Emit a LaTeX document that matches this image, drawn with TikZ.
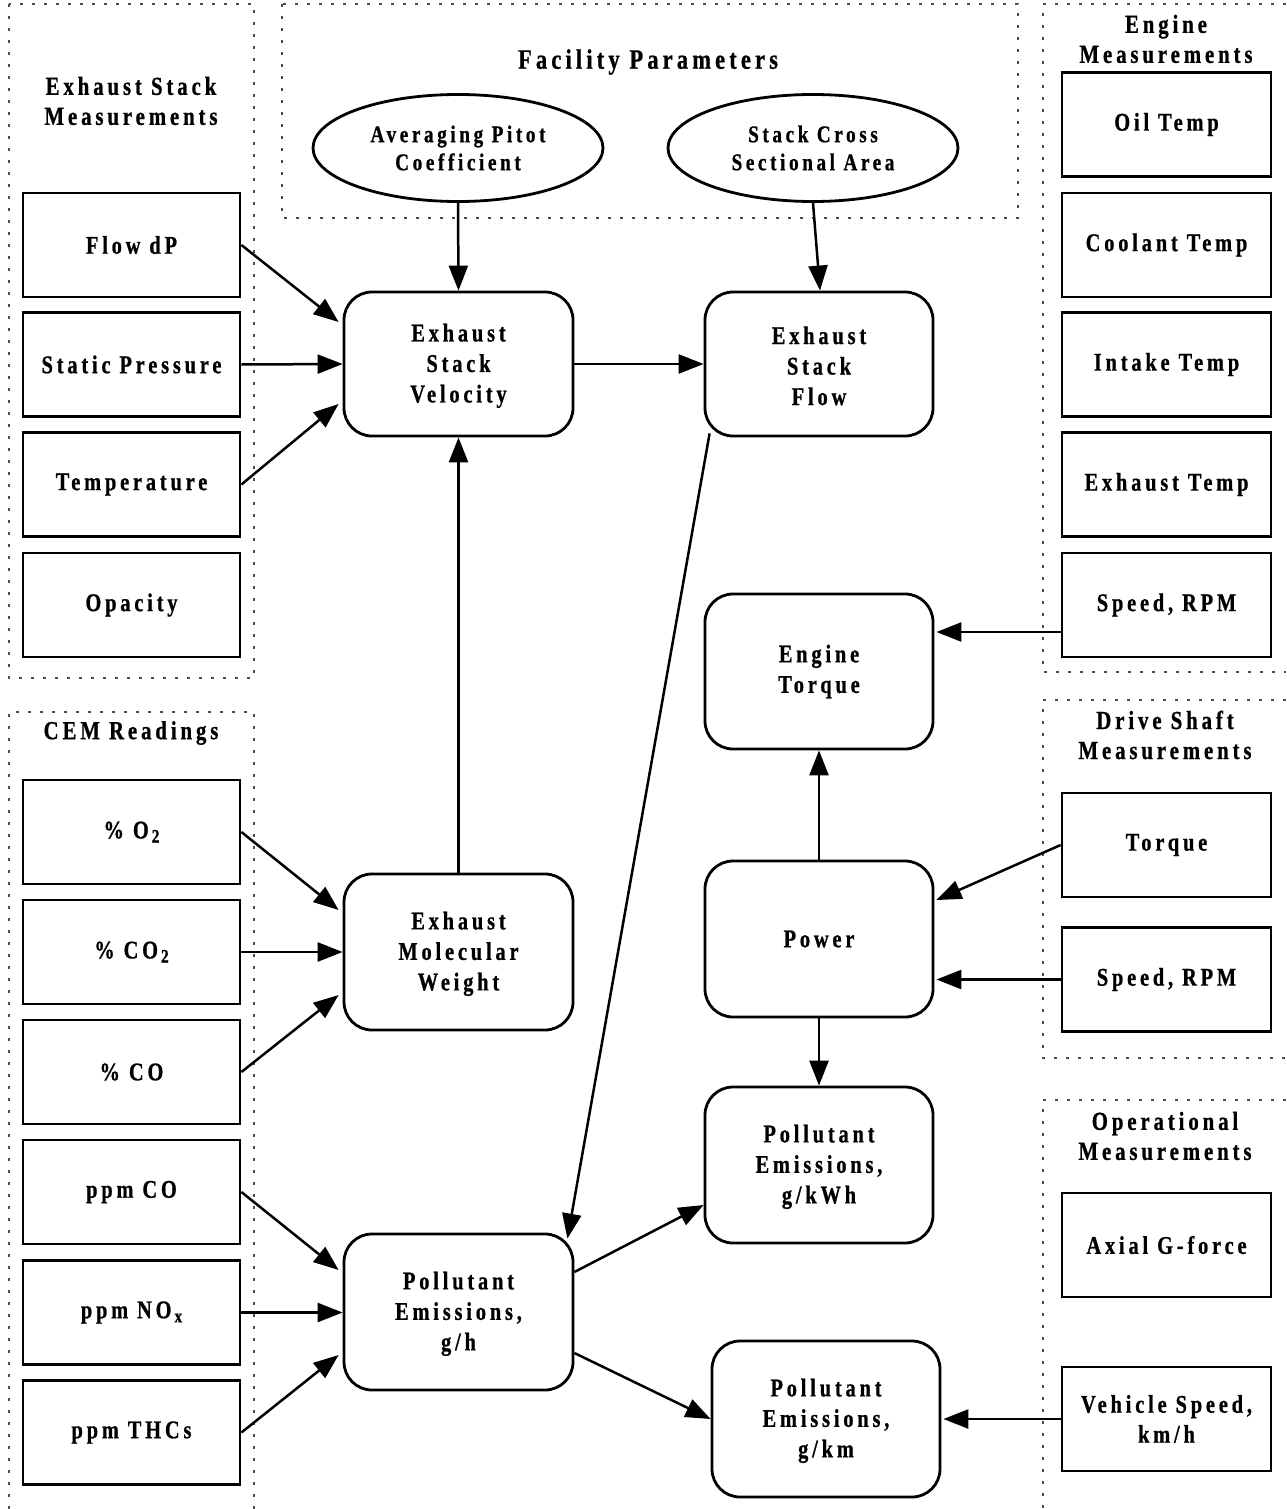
\documentclass[tikz,border=0pt]{standalone}
\usepackage{fontspec}
\setmainfont{Liberation Serif}[FakeStretch=0.8, LetterSpace=15, BoldFont={Liberation Serif Bold}, BoldFeatures={FakeBold=0.8}]
\usetikzlibrary{shapes.geometric,arrows.meta}
\newcommand\subtx[1]{\hspace{3pt}\raisebox{-0.35ex}{\fontsize{19}{19}\selectfont #1}}
\tikzset{
  meas/.style={draw, line width=2.8pt, minimum height=104pt, align=center, inner sep=0pt,
    font=\bfseries\fontsize{25.5}{30}\selectfont},
  measL/.style={meas, minimum width=217pt},
  measR/.style={meas, minimum width=209pt},
  calc/.style={draw, line width=2.8pt, rounded corners=28pt, minimum width=229pt, minimum height=156pt,
    align=center, inner sep=0pt, font=\bfseries\fontsize{25.5}{30.5}\selectfont},
  param/.style={draw, ellipse, line width=2.8pt, minimum width=290pt, minimum height=107pt, inner sep=0pt,
    align=center, font=\bfseries\fontsize{24}{28}\selectfont},
  grptitle/.style={align=center, inner sep=0pt, font=\bfseries\fontsize{26}{30}\selectfont},
  grp/.style={line width=1.1pt, black!70, dash pattern=on 3pt off 9pt},
  arr/.style={line width=2.5pt, -{Triangle[length=25pt,width=19pt]}},
}
\begin{document}
\begin{tikzpicture}[x=1pt,y=-1pt]
\useasboundingbox (0,0) rectangle (1286,1509);
% group frames
\draw[grp] (9,4) rectangle (254,678);
\draw[grp] (282,4) rectangle (1018,218);
\draw[grp] (1286,4) -- (1043,4) -- (1043,672) -- (1286,672);
\draw[grp] (1286,700) -- (1043,700) -- (1043,1058) -- (1286,1058);
\draw[grp] (1286,1100) -- (1043,1100) -- (1043,1509);
\draw[grp] (254,1509) -- (254,712) -- (9,712) -- (9,1509);
% group titles
\node[grptitle] (t1) at (131,101) {Exhaust Stack\\Measurements};
\node[grptitle, font=\bfseries\fontsize{28}{34}\selectfont] (t2) at (648,62) {Facility Parameters};
\node[grptitle] (t3) at (1166,39) {Engine\\Measurements};
\node[grptitle] (t4) at (131,733) {CEM Readings};
\node[grptitle] (t5) at (1165,735) {Drive Shaft\\Measurements};
\node[grptitle] (t6) at (1165,1136) {Operational\\Measurements};
% ellipses
\node[param] (pitot) at (458,148) {Averaging Pitot\\Coefficient};
\node[param] (area) at (813,148) {Stack Cross\\Sectional Area};
% left measurements
\node[measL] (flow) at (131.5,245) {Flow dP};
\node[measL] (stat) at (131.5,364.5) {Static Pressure};
\node[measL] (temp) at (131.5,484.5) {Temperature};
\node[measL] (opac) at (131.5,605) {Opacity};
\node[measL] (otwo) at (131.5,832) {\% O\subtx{2}};
\node[measL] (cotwo) at (131.5,952) {\% CO\subtx{2}};
\node[measL] (co) at (131.5,1072) {\% CO};
\node[measL] (ppmco) at (131.5,1192) {ppm CO};
\node[measL] (nox) at (131.5,1312.5) {ppm NO\subtx{x}};
\node[measL] (thc) at (131.5,1432.5) {ppm THCs};
% right measurements
\node[measR] (oil) at (1166.5,124.5) {Oil Temp};
\node[measR] (cool) at (1166.5,245) {Coolant Temp};
\node[measR] (intake) at (1166.5,364.5) {Intake Temp};
\node[measR] (exht) at (1166.5,484.5) {Exhaust Temp};
\node[measR] (rpma) at (1166.5,605) {Speed, RPM};
\node[measR] (torq) at (1166.5,845) {Torque};
\node[measR] (rpmb) at (1166.5,979.5) {Speed, RPM};
\node[measR] (axial) at (1166.5,1245) {Axial G-force};
\node[measR] (veh) at (1166.5,1419) {Vehicle Speed,\\km/h};
% calculations
\node[calc, minimum height=144pt] (esv) at (458.5,364) {\strut Exhaust\\Stack\\Velocity};
\node[calc, minimum height=144pt, minimum width=228pt] (esf) at (819,364) {\strut Exhaust\\Stack\\Flow};
\node[calc, minimum width=228pt, minimum height=155pt] (etq) at (819,671.5) {Engine\\Torque};
\node[calc] (emw) at (458.5,952) {\strut Exhaust\\Molecular\\Weight};
\node[calc, minimum width=228pt] (pow) at (819,939) {Power};
\node[calc, minimum width=228pt] (pekwh) at (819,1165) {\strut Pollutant\\Emissions,\\g/kWh};
\node[calc] (pegh) at (458.5,1312) {\strut Pollutant\\Emissions,\\g/h};
\node[calc, minimum width=228pt] (pekm) at (826,1419) {\strut Pollutant\\Emissions,\\g/km};
% connectors
\draw[arr] (pitot.south) -- (esv.north);
\draw[arr] (area.south) -- ([xshift=1pt]esf.north);
\draw[arr] (flow.east) -- ([xshift=-4pt,yshift=42pt]esv.west);
\draw[arr] (stat.east) -- (esv.west);
\draw[arr] (temp.east) -- ([xshift=-4pt,yshift=-40pt]esv.west);
\draw[arr] (esv.east) -- (esf.west);
\draw[arr] (emw.north) -- (esv.south);
\draw[arr] (otwo.east) -- ([xshift=-4pt,yshift=42pt]emw.west);
\draw[arr] (cotwo.east) -- (emw.west |- cotwo.east);
\draw[arr] (co.east) -- ([xshift=-4pt,yshift=-43pt]emw.west);
\draw[arr] ([xshift=6pt,yshift=4pt]esf.south west) -- ([xshift=-7pt,yshift=-6pt]pegh.north east);
\draw[arr] (ppmco.east) -- ([xshift=-4pt,yshift=42pt]pegh.west);
\draw[arr] (nox.east) -- (pegh.west |- nox.east);
\draw[arr] (thc.east) -- ([xshift=-4pt,yshift=-43pt]pegh.west);
\draw[arr] ([yshift=40pt]pegh.east) -- ([yshift=-40pt]pekwh.west);
\draw[arr] ([yshift=-41pt]pegh.east) -- (pekm.west);
\draw[arr] ([yshift=-27pt]rpma.west) -- ([xshift=2pt,yshift=-27pt]etq.east |- rpma.west);
\draw[arr] (pow.north) -- (etq.south);
\draw[arr] (torq.west) -- ([xshift=2pt,yshift=39pt]pow.east);
\draw[arr] (rpmb.west) -- ([xshift=2pt]pow.east |- rpmb.west);
\draw[arr] (pow.south) -- (pekwh.north);
\draw[arr] (veh.west) -- ([xshift=2pt]pekm.east);
\end{tikzpicture}
\end{document}
